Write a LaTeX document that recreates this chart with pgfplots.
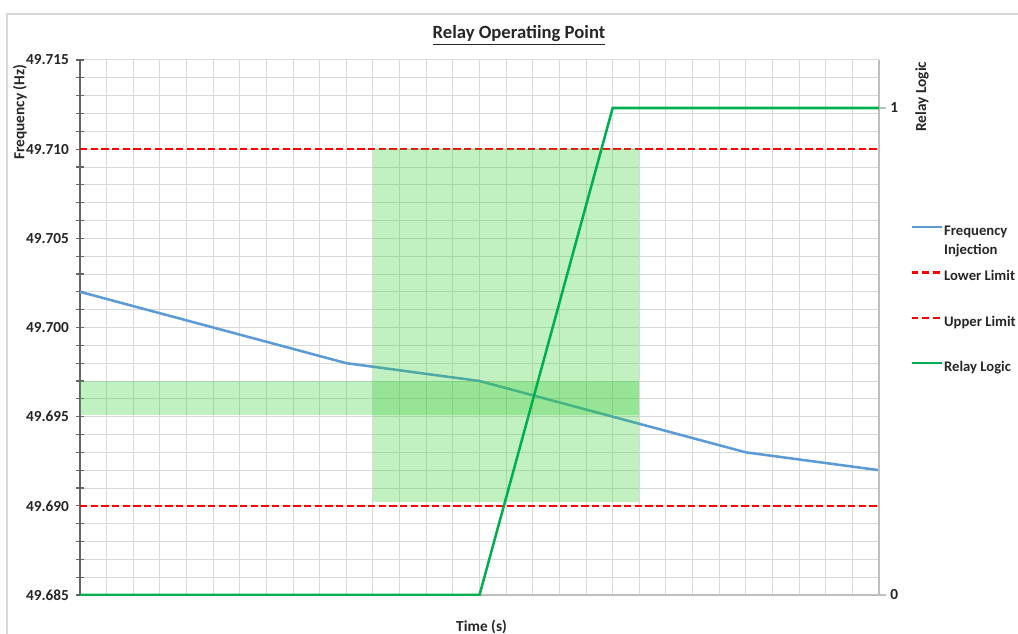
\documentclass[border=0pt]{standalone}
\usepackage{pgfplots}
\pgfplotsset{compat=1.18}
\usepackage{fontspec}
\setmainfont{Carlito}

\definecolor{freqblue}{RGB}{91,155,213}
\definecolor{limitred}{RGB}{255,0,0}
\definecolor{relaygreen}{RGB}{0,176,80}
\definecolor{shadegreen}{RGB}{50,205,50}
\definecolor{gridgray}{RGB}{217,217,217}
\definecolor{axisdark}{RGB}{100,100,100}
\definecolor{axisgray}{RGB}{191,191,191}
\definecolor{labeltext}{RGB}{38,38,38}

\begin{document}
\begin{tikzpicture}
% page is 1018x633 px, 1 px = 0.75pt
\useasboundingbox (0,0) rectangle (763.5pt,474.75pt);
\clip (0,0) rectangle (763.5pt,474.75pt);
\draw[gridgray, line width=1pt] (5.25pt,-5pt) -- (5.25pt,464.25pt) -- (780pt,464.25pt);

\begin{axis}[
    at={(60pt,28.5pt)}, anchor=south west,
    scale only axis, width=599.25pt, height=401.25pt,
    xmin=0, xmax=30, ymin=49.685, ymax=49.715,
    axis x line*=bottom, axis y line*=left,
    xtick={0,1,...,30}, xticklabels={}, x tick style={draw=none},
    ytick={49.685,49.690,49.695,49.700,49.705,49.710,49.715},
    minor y tick num=4,
    xmajorgrids, ymajorgrids, yminorgrids,
    grid style={gridgray, line width=0.75pt},
    minor grid style={gridgray, line width=0.75pt},
    tick align=center,
    major tick length=5.5pt, minor tick length=5.5pt,
    y tick style={axisdark, line width=0.9pt},
    y axis line style={axisdark, line width=1.6pt},
    x axis line style={axisgray, line width=1.6pt},
    /pgf/number format/assume math mode=true,
    yticklabel style={/pgf/number format/fixed, /pgf/number format/fixed zerofill, /pgf/number format/precision=3, xshift=-2pt},
    ticklabel style={font=\fontsize{11.5}{13}\selectfont\bfseries, text=labeltext},
    every axis title shift=0pt,
    title={\underline{Relay Operatiing Point}},
    title style={at={(axis description cs:0.5494,1.0393)}, anchor=base, font=\fontsize{14}{16}\selectfont\bfseries, text=labeltext},
    xlabel={Time (s)},
    xlabel style={at={(axis description cs:0.5026,-0.0673)}, anchor=base, font=\fontsize{11.5}{13}\selectfont\bfseries, text=labeltext},
    ylabel={Frequency (Hz)},
    ylabel style={at={(axis description cs:-0.0751,1.0)}, anchor=east, font=\fontsize{11.5}{13}\selectfont\bfseries, text=labeltext},
]
% Frequency Injection
\addplot[freqblue, line width=1.9pt] coordinates {
    (0,49.702) (10,49.698) (15,49.697) (25,49.693) (30,49.692)
};
% Lower and upper limits
\addplot[limitred, line width=1.9pt, dash pattern=on 5.5pt off 2.5pt] coordinates {(0,49.690) (30,49.690)};
\addplot[limitred, line width=1.9pt, dash pattern=on 5.5pt off 2.5pt] coordinates {(0,49.710) (30,49.710)};
% shaded operating windows
\addplot[draw=none, fill=shadegreen, fill opacity=0.3] coordinates {
    (11,49.6902) (21,49.6902) (21,49.710) (11,49.710)
} -- cycle;
\addplot[draw=none, fill=shadegreen, fill opacity=0.3] coordinates {
    (0,49.6951) (21,49.6951) (21,49.697) (0,49.697)
} -- cycle;
\end{axis}

\begin{axis}[
    at={(60pt,28.5pt)}, anchor=south west,
    scale only axis, width=599.25pt, height=401.25pt,
    xmin=0, xmax=30, ymin=0, ymax=1.0986,
    axis x line=none, axis y line*=right,
    ytick={0,1}, tick align=outside, major tick length=5pt,
    y tick style={axisgray, line width=0.9pt},
    y axis line style={axisgray, line width=1.6pt},
    /pgf/number format/assume math mode=true,
    ticklabel style={font=\fontsize{11.5}{13}\selectfont\bfseries, text=labeltext},
    ylabel={Relay Logic},
    ylabel style={at={(axis description cs:1.0538,1.0056)}, anchor=east, font=\fontsize{11.5}{13}\selectfont\bfseries, text=labeltext},
    legend cell align=left,
    legend image code/.code={\draw[#1] (0pt,3.5pt) -- (22.5pt,3.5pt);},
    legend style={draw=none, fill=none, at={(axis description cs:1.0338,0.70)}, anchor=north west,
        font=\fontsize{11}{14}\selectfont\bfseries, text=labeltext,
        row sep=21.5pt, nodes={inner sep=1pt, text height=8pt, text depth=2.5pt}},
]
\addlegendimage{freqblue, line width=1.9pt}
\addlegendentry{\begin{tabular}[t]{@{}l@{}}Frequency\\Injection\end{tabular}}
\addlegendimage{limitred, line width=1.9pt, dash pattern=on 5pt off 3pt}
\addlegendentry{Lower Limit}
\addlegendimage{limitred, line width=1.9pt, dash pattern=on 5pt off 3pt}
\addlegendentry{Upper Limit}
% Relay Logic
\addplot[relaygreen, line width=1.9pt] coordinates {(0,0) (15,0) (20,1) (30,1)};
\addlegendentry{Relay Logic}
\end{axis}
\end{tikzpicture}
\end{document}
